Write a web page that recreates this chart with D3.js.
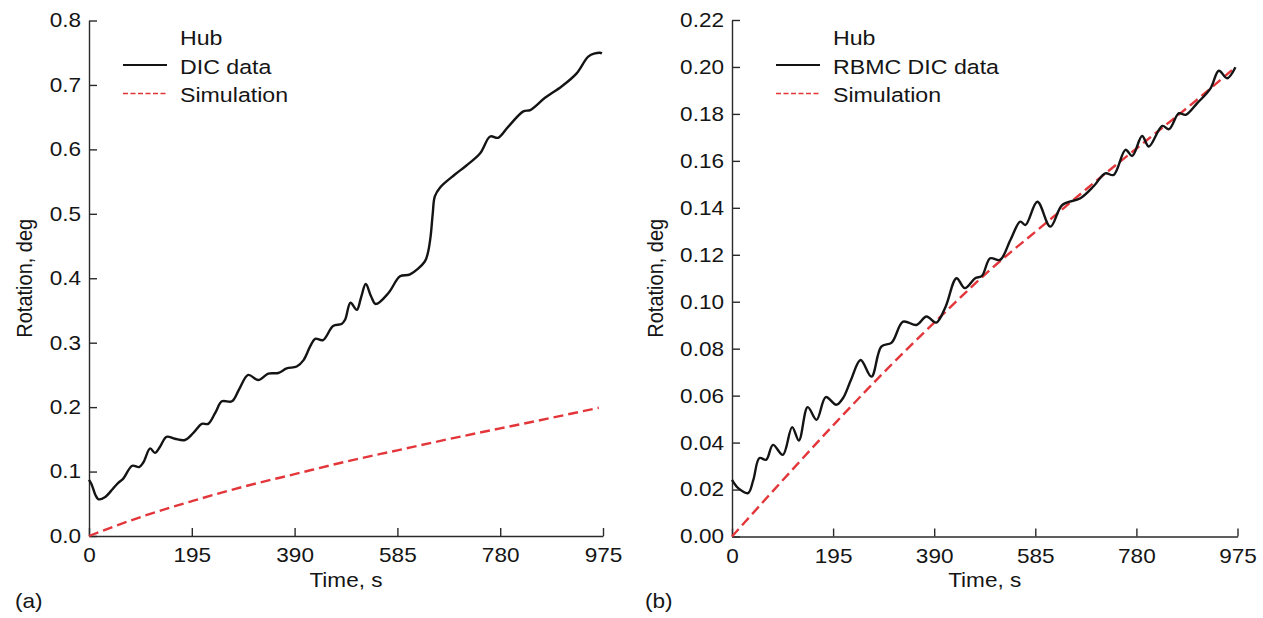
<!DOCTYPE html>
<html>
<head>
<meta charset="utf-8">
<script src="https://cdn.jsdelivr.net/npm/d3@7"></script>
<style>
  html, body { margin: 0; padding: 0; background: #fff; }
  svg { display: block; }
  text { font-family: "Liberation Sans", Arial, sans-serif; fill: #151515; }
</style>
</head>
<body>
<svg id="chart" width="1263" height="618"></svg>
<script>
// ---------- data ----------
const timeTicks = [0, 195, 390, 585, 780, 975];
const yTicksA = [0, 0.1, 0.2, 0.3, 0.4, 0.5, 0.6, 0.7, 0.8];
const yTicksB = [0, 0.02, 0.04, 0.06, 0.08, 0.10, 0.12, 0.14, 0.16, 0.18, 0.20, 0.22];

const legendA = ["Hub", "DIC data", "Simulation"];
const legendB = ["Hub", "RBMC DIC data", "Simulation"];

// panel (a): DIC data [time s, rotation deg]
const dicA = [
  [0,0.087],[5,0.080],[12,0.064],[18,0.057],[30,0.060],[45,0.073],[55,0.082],[65,0.089],
  [82,0.109],[95,0.107],[103,0.114],[116,0.136],[125,0.129],[135,0.139],[147,0.154],[163,0.151],
  [182,0.149],[198,0.160],[214,0.174],[226,0.174],[240,0.192],[252,0.209],[271,0.209],[285,0.228],
  [302,0.250],[321,0.242],[340,0.252],[359,0.253],[375,0.260],[394,0.263],[407,0.273],[420,0.295],
  [429,0.306],[444,0.304],[463,0.326],[479,0.329],[486,0.336],[496,0.362],[508,0.351],[516,0.370],
  [525,0.391],[535,0.372],[544,0.360],[568,0.377],[590,0.403],[609,0.406],[637,0.426],[643,0.440],
  [648,0.465],[652,0.500],[656,0.527],[666,0.541],[694,0.561],[716,0.575],[742,0.594],[761,0.620],
  [776,0.618],[795,0.635],[824,0.659],[837,0.661],[865,0.680],[897,0.698],[925,0.718],[947,0.744],
  [960,0.749],[969,0.750],[973,0.749]
];
// panel (a): simulation
const simA = [
  [0,0],[100,0.030],[195,0.054],[300,0.078],[390,0.096],[485,0.115],[585,0.133],
  [680,0.150],[780,0.167],[875,0.183],[967,0.199]
];
// panel (b): RBMC DIC data
const dicB = [
  [0,0.0241],[12,0.0206],[31,0.0185],[41,0.0240],[53,0.0334],[66,0.0327],[79,0.0390],[98,0.0348],
  [116,0.0466],[129,0.0409],[146,0.0551],[163,0.0497],[181,0.0594],[201,0.0561],[214,0.0589],[230,0.0670],
  [248,0.0752],[269,0.0681],[288,0.0809],[308,0.0826],[330,0.0915],[356,0.0901],[375,0.0937],[394,0.0911],
  [412,0.0979],[433,0.1100],[449,0.1058],[469,0.1100],[482,0.1110],[498,0.1185],[517,0.1178],[537,0.1263],
  [556,0.1341],[566,0.1327],[589,0.1426],[614,0.1320],[637,0.1412],[672,0.1441],[698,0.1493],[720,0.1547],
  [736,0.1540],[759,0.1647],[772,0.1621],[791,0.1706],[804,0.1661],[830,0.1749],[843,0.1735],[862,0.1803],
  [875,0.1796],[897,0.1845],[923,0.1909],[939,0.1984],[955,0.1952],[971,0.1999]
];
// panel (b): simulation
const simB = [
  [0,0],[100,0.0245],[200,0.0485],[300,0.0715],[400,0.0932],[500,0.1140],
  [600,0.1325],[700,0.1510],[800,0.1688],[900,0.1866],[968,0.1994]
];

// ---------- drawing ----------
const svg = d3.select("#chart");
const SX = 1.13;          // horizontal text stretch of the original figure
const FS = 20;            // font size
const BLACK = "#141414";
const RED = "#e3363b";

function stretched(g, x, y, str, anchor, fs) {
  return g.append("text")
    .attr("transform", `translate(${x},${y}) scale(${SX},1)`)
    .attr("text-anchor", anchor || "start")
    .style("font-size", (fs || FS) + "px")
    .text(str);
}

function panel(cfg) {
  const g = svg.append("g");
  const x = d3.scaleLinear().domain([0, 975]).range([cfg.x0, cfg.x1]);
  const y = d3.scaleLinear().domain([0, cfg.ymax]).range([cfg.yb, cfg.yt]);

  // axes
  const ax = g.append("g").attr("transform", `translate(0,${cfg.yb})`)
    .call(d3.axisBottom(x).tickValues(timeTicks).tickFormat(d3.format("d"))
      .tickSize(-8).tickSizeOuter(0).tickPadding(12));
  const ay = g.append("g").attr("transform", `translate(${cfg.x0},0)`)
    .call(d3.axisLeft(y).tickValues(cfg.yticks).tickFormat(d3.format(cfg.fmt))
      .tickSize(-8).tickSizeOuter(0).tickPadding(7));
  [ax, ay].forEach(a => {
    a.select(".domain").attr("stroke", "#2a2a2a").attr("stroke-width", 1.4);
    a.selectAll(".tick line").attr("stroke", "#2a2a2a").attr("stroke-width", 1.4);
    a.selectAll(".tick text")
      .attr("fill", "#151515")
      .style("font-size", FS + "px")
      .style("font-family", '"Liberation Sans", Arial, sans-serif')
      .attr("transform", `scale(${SX},1)`);
  });

  // axis titles
  stretched(g, (cfg.x0 + cfg.x1) / 2, 587, "Time, s", "middle");
  g.append("text")
    .attr("transform", `translate(${cfg.ylabX},${(cfg.yt + cfg.yb) / 2}) rotate(-90) scale(1,${SX})`)
    .attr("text-anchor", "middle")
    .style("font-size", FS + "px")
    .text("Rotation, deg");
  stretched(g, cfg.tagX, 608, cfg.tag, "start");

  // curves
  const dataLine = d3.line().x(d => x(d[0])).y(d => y(d[1])).curve(d3.curveCatmullRom.alpha(0.5));
  const simLine = d3.line().x(d => x(d[0])).y(d => y(d[1])).curve(d3.curveMonotoneX);
  g.append("path").datum(cfg.sim)
    .attr("d", simLine).attr("fill", "none")
    .attr("stroke", RED).attr("stroke-width", 2.4).attr("stroke-dasharray", "10,5");
  g.append("path").datum(cfg.dic)
    .attr("d", dataLine).attr("fill", "none")
    .attr("stroke", BLACK).attr("stroke-width", 2.4).attr("stroke-linejoin", "round");

  // legend
  const lx = cfg.legX;
  stretched(g, lx, 45, cfg.legend[0], "start", 20.5);
  stretched(g, lx, 73.5, cfg.legend[1], "start", 20.5);
  stretched(g, lx, 102, cfg.legend[2], "start", 20.5);
  g.append("line").attr("x1", lx - 57).attr("x2", lx - 13).attr("y1", 65).attr("y2", 65)
    .attr("stroke", BLACK).attr("stroke-width", 2);
  g.append("line").attr("x1", lx - 57).attr("x2", lx - 13).attr("y1", 93.5).attr("y2", 93.5)
    .attr("stroke", RED).attr("stroke-width", 1.6).attr("stroke-dasharray", "5,2.5");
}

panel({ x0: 89, x1: 603, yt: 20.5, yb: 536, ymax: 0.8, yticks: yTicksA, fmt: ".1f",
        dic: dicA, sim: simA, legend: legendA, legX: 180, ylabX: 32, tag: "(a)", tagX: 15 });
panel({ x0: 732, x1: 1237.5, yt: 20, yb: 536.5, ymax: 0.22, yticks: yTicksB, fmt: ".2f",
        dic: dicB, sim: simB, legend: legendB, legX: 833, ylabX: 663, tag: "(b)", tagX: 645 });
</script>
</body>
</html>
